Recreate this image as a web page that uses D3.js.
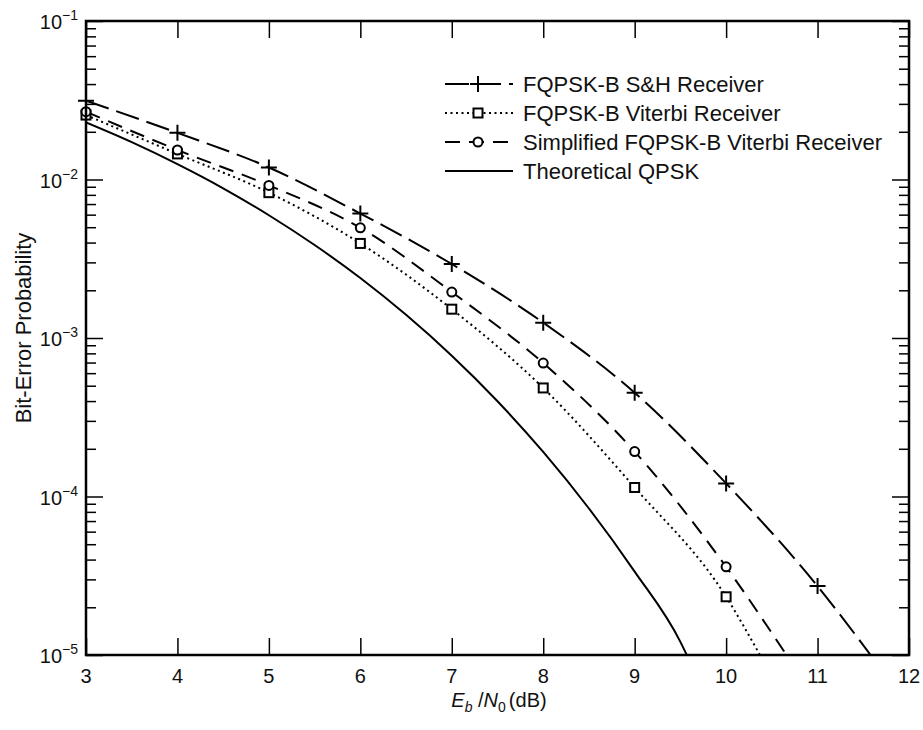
<!DOCTYPE html>
<html>
<head>
<meta charset="utf-8">
<script src="https://cdn.jsdelivr.net/npm/d3@7"></script>
<style>
  html, body { margin: 0; padding: 0; background: #fff; }
  svg { display: block; font-family: "Liberation Sans", Arial, Helvetica, sans-serif; }
</style>
</head>
<body>
<svg id="chart" width="923" height="730"></svg>
<script>
// Eb/N0 (dB) points where each receiver was simulated
const snrMeasured = [3, 4, 5, 6, 7, 8, 9, 10, 11];

// FQPSK-B sample-and-hold receiver (plus markers)
const shSnr = [3, 4, 5, 6, 7, 8, 9, 10, 11, 11.58];
const shBer = [0.0314, 0.0197, 0.0119, 0.0061, 0.00293, 0.00125, 4.52e-4, 1.21e-4, 2.72e-5, 1e-5];
const shMarked = 9;

// FQPSK-B Viterbi receiver (square markers)
const vitSnr = [3, 4, 5, 6, 7, 8, 9, 10, 10.37];
const vitBer = [0.0255, 0.0145, 0.00826, 0.00395, 0.00152, 4.84e-4, 1.14e-4, 2.33e-5, 1e-5];
const vitMarked = 8;

// Simplified FQPSK-B Viterbi receiver (circle markers)
const simSnr = [3, 4, 5, 6, 7, 8, 9, 10, 10.66];
const simBer = [0.0268, 0.01535, 0.00918, 0.00496, 0.00195, 6.95e-4, 1.92e-4, 3.6e-5, 1e-5];
const simMarked = 8;

// Theoretical QPSK curve
const qpskSnr = [3, 3.5, 4, 4.5, 5, 5.5, 6, 6.5, 7, 7.5, 8, 8.5, 9, 9.5, 9.57];
const qpskBer = [0.0229, 0.0172, 0.0125, 0.0088, 0.00595, 0.00386, 0.00239, 0.0014, 7.73e-4, 3.99e-4, 1.91e-4, 8.4e-5, 3.36e-5, 1.21e-5, 1e-5];

// Axis ticks
const xTicks = [3, 4, 5, 6, 7, 8, 9, 10, 11, 12];
const yExponents = [-1, -2, -3, -4, -5];
const legendLabels = [
  "FQPSK-B S&H Receiver",
  "FQPSK-B Viterbi Receiver",
  "Simplified FQPSK-B Viterbi Receiver",
  "Theoretical QPSK"
];

const svg = d3.select("#chart");
const L = 86, R = 909, T = 21, B = 655;

const x = d3.scaleLinear().domain([3, 12]).range([L, R]);
const y = d3.scaleLog().domain([1e-5, 1e-1]).range([B, T]);

// clip region for the curves
svg.append("defs").append("clipPath").attr("id", "plotClip")
  .append("rect").attr("x", L).attr("y", T).attr("width", R - L).attr("height", B - T);

// minor log ticks 2..9 in each decade
const minorTicks = [];
for (let e = -5; e < -1; e++) {
  for (let m = 2; m <= 9; m++) minorTicks.push(m * Math.pow(10, e));
}
const majorY = yExponents.map(e => Math.pow(10, e));

function styleAxis(g) {
  g.select(".domain").remove();
  g.selectAll(".tick line").attr("stroke", "#000").attr("stroke-width", 1.5);
}

// bottom & top x ticks (pointing inward)
svg.append("g").attr("transform", `translate(0,${B})`)
  .call(d3.axisBottom(x).tickValues(xTicks).tickSize(-17).tickFormat(""))
  .call(styleAxis);
svg.append("g").attr("transform", `translate(0,${T})`)
  .call(d3.axisTop(x).tickValues(xTicks).tickSize(-17).tickFormat(""))
  .call(styleAxis);

// left & right y ticks
svg.append("g").attr("transform", `translate(${L},0)`)
  .call(d3.axisLeft(y).tickValues(majorY).tickSize(-17).tickFormat(""))
  .call(styleAxis);
svg.append("g").attr("transform", `translate(${L},0)`)
  .call(d3.axisLeft(y).tickValues(minorTicks).tickSize(-10).tickFormat(""))
  .call(styleAxis);
svg.append("g").attr("transform", `translate(${R},0)`)
  .call(d3.axisRight(y).tickValues(majorY).tickSize(-17).tickFormat(""))
  .call(styleAxis);
svg.append("g").attr("transform", `translate(${R},0)`)
  .call(d3.axisRight(y).tickValues(minorTicks).tickSize(-10).tickFormat(""))
  .call(styleAxis);

// x tick labels
svg.append("g").selectAll("text").data(xTicks).join("text")
  .attr("x", d => x(d)).attr("y", B + 28)
  .attr("text-anchor", "middle").attr("font-size", 20).attr("fill", "#111")
  .text(d => d);

// y tick labels as 10 with superscript exponent
const yl = svg.append("g").selectAll("text").data(yExponents).join("text")
  .attr("x", L - 8).attr("y", d => y(Math.pow(10, d)) + 8)
  .attr("text-anchor", "end").attr("fill", "#111");
yl.append("tspan").attr("font-size", 20).text("10");
yl.append("tspan").attr("font-size", 14).attr("dy", -9).text(d => "\u2212" + Math.abs(d));

// axis titles
const xt = svg.append("text").attr("x", 499).attr("y", 707)
  .attr("text-anchor", "middle").attr("font-size", 20).attr("fill", "#111");
xt.append("tspan").attr("font-style", "italic").text("E");
xt.append("tspan").attr("font-style", "italic").attr("font-size", 14).attr("dy", 5).text("b");
xt.append("tspan").attr("dy", -5).text(" /");
xt.append("tspan").attr("font-style", "italic").text("N");
xt.append("tspan").attr("font-size", 14).attr("dy", 5).text("0");
xt.append("tspan").attr("dy", -5).attr("dx", 3).text("(dB)");

svg.append("text")
  .attr("transform", `translate(31,${(T + B) / 2 - 10}) rotate(-90)`)
  .attr("text-anchor", "middle").attr("font-size", 22).attr("fill", "#111")
  .text("Bit-Error Probability");

// series
const series = [
  { snr: shSnr, ber: shBer, marked: shMarked, dash: "24,8", marker: "plus" },
  { snr: vitSnr, ber: vitBer, marked: vitMarked, dash: "2,3.5", marker: "square" },
  { snr: simSnr, ber: simBer, marked: simMarked, dash: "15,9", marker: "circle" },
  { snr: qpskSnr, ber: qpskBer, marked: 0, dash: null, marker: null }
];

const line = d3.line().x(d => x(d[0])).y(d => y(d[1])).curve(d3.curveMonotoneX);
const plot = svg.append("g").attr("clip-path", "url(#plotClip)");

function drawMarker(g, type, cx, cy) {
  if (type === "plus") {
    g.append("path").attr("d", `M${cx - 8},${cy}H${cx + 8}M${cx},${cy - 8}V${cy + 8}`)
      .attr("stroke", "#000").attr("stroke-width", 2).attr("fill", "none");
  } else if (type === "square") {
    g.append("rect").attr("x", cx - 4.5).attr("y", cy - 4.5).attr("width", 9).attr("height", 9)
      .attr("stroke", "#000").attr("stroke-width", 2).attr("fill", "#fff");
  } else if (type === "circle") {
    g.append("circle").attr("cx", cx).attr("cy", cy).attr("r", 4.5)
      .attr("stroke", "#000").attr("stroke-width", 2).attr("fill", "#fff");
  }
}

series.forEach(s => {
  const pts = s.snr.map((v, i) => [v, s.ber[i]]);
  plot.append("path").datum(pts).attr("d", line)
    .attr("fill", "none").attr("stroke", "#000").attr("stroke-width", 2)
    .attr("stroke-dasharray", s.dash);
  if (s.marker) {
    const mg = svg.append("g");
    pts.slice(0, s.marked).forEach(p => drawMarker(mg, s.marker, x(p[0]), y(p[1])));
  }
});

// frame
svg.append("rect").attr("x", L).attr("y", T).attr("width", R - L).attr("height", B - T)
  .attr("fill", "none").attr("stroke", "#000").attr("stroke-width", 2.5);

// legend
const legY0 = 84, legStep = 29;
const lg = svg.append("g");
series.forEach((s, i) => {
  const cy = legY0 + i * legStep;
  lg.append("line").attr("x1", 445).attr("x2", 513).attr("y1", cy).attr("y2", cy)
    .attr("stroke", "#000").attr("stroke-width", 2).attr("stroke-dasharray", s.dash);
  if (s.marker) drawMarker(lg, s.marker, 478, cy);
  lg.append("text").attr("x", 523).attr("y", cy + 8)
    .attr("font-size", 22).attr("fill", "#111").text(legendLabels[i]);
});
</script>
</body>
</html>
